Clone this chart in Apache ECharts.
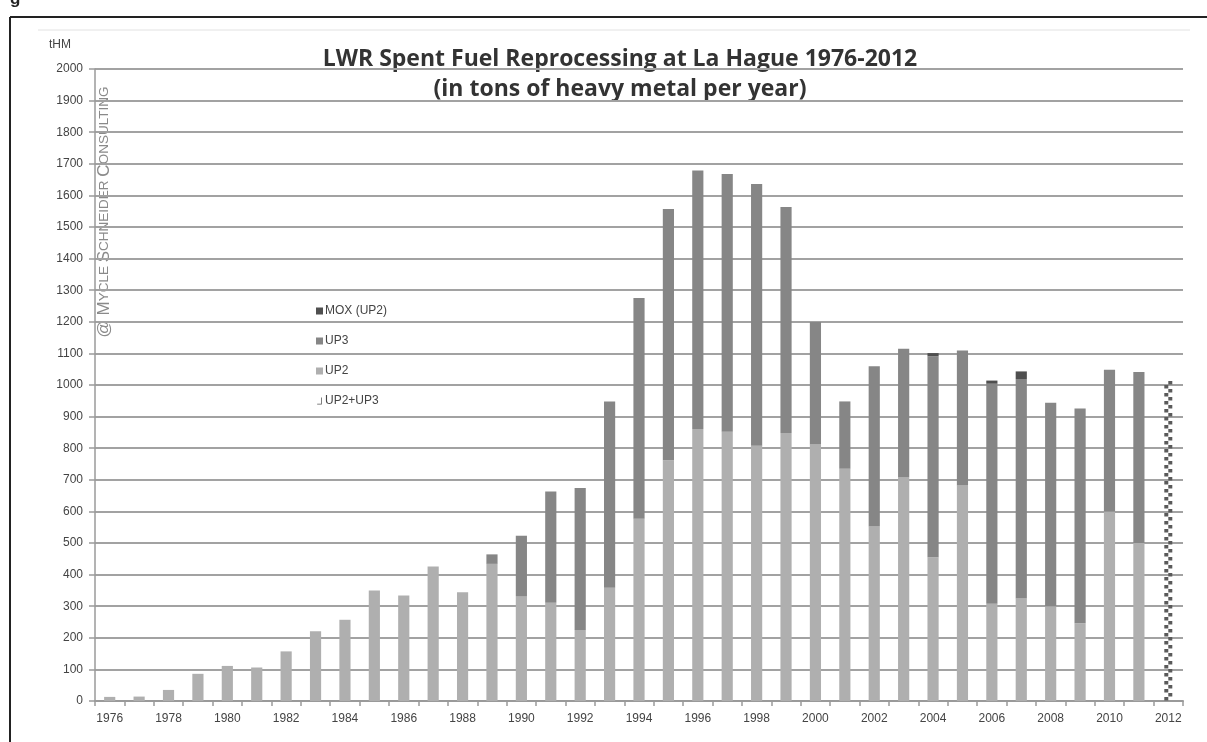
<!DOCTYPE html>
<html>
<head>
<meta charset="utf-8">
<script src="https://cdn.jsdelivr.net/npm/echarts@6/dist/echarts.min.js"></script>
<style>
  html, body { margin: 0; padding: 0; background: #fff; }
  #chart { width: 1207px; height: 742px; }
</style>
</head>
<body>
<div id="chart"></div>
<script>
// years on the x axis
const years = [
  '1976','1977','1978','1979','1980','1981','1982','1983','1984','1985',
  '1986','1987','1988','1989','1990','1991','1992','1993','1994','1995',
  '1996','1997','1998','1999','2000','2001','2002','2003','2004','2005',
  '2006','2007','2008','2009','2010','2011','2012'
]

// tons of heavy metal per year
const up2 = [
  13, 14, 35, 86, 111, 106, 157, 221, 257, 350,
  334, 426, 344, 434, 332, 311, 225, 358, 577, 762,
  861, 852, 808, 848, 812, 735, 552, 707, 455, 682,
  308, 324, 300, 246, 600, 500, '-'
]
const up3 = [
  '-', '-', '-', '-', '-', '-', '-', '-', '-', '-',
  '-', '-', '-', 30, 191, 352, 449, 590, 698, 795,
  818, 816, 828, 715, 387, 213, 507, 408, 636, 427,
  696, 695, 644, 680, 448, 541, '-'
]
const mox = [
  '-', '-', '-', '-', '-', '-', '-', '-', '-', '-',
  '-', '-', '-', '-', '-', '-', '-', '-', '-', '-',
  '-', '-', '-', '-', '-', '-', '-', '-', 10, '-',
  10, 24, '-', '-', '-', '-', '-'
]
// 2012 estimate, drawn checkered
const up2up3 = [['2012', 1018]]

const chart = echarts.init(document.getElementById('chart'))

// checkered column for the 2012 estimate
const renderChecker = (params, api) => {
  const base = api.coord([api.value(0), 0])
  const top = api.coord([api.value(0), api.value(1)])
  const s = 4
  const n = Math.floor((base[1] - top[1]) / s)
  const children = []
  for (let i = 0; i < n; i++) {
    children.push({
      type: 'rect',
      shape: { x: base[0] + (i % 2 ? 0 : -s), y: base[1] - (i + 1) * s, width: s, height: s - 0.5 },
      style: { fill: api.visual('color') }
    })
  }
  return { type: 'group', children }
}

const option = {
  backgroundColor: '#fff',
  animation: false,
  textStyle: { fontFamily: 'Liberation Sans' },
  grid: { left: 95, right: 24, top: 69, bottom: 41 },
  legend: {
    orient: 'vertical',
    left: 311,
    top: 300,
    itemGap: 18,
    itemWidth: 7,
    itemHeight: 7,
    textStyle: { fontSize: 12, color: '#444', padding: [0, 0, 0, -3] },
    data: [
      { name: 'MOX (UP2)', icon: 'rect' },
      { name: 'UP3', icon: 'rect' },
      { name: 'UP2', icon: 'rect' },
      { name: 'UP2+UP3', icon: 'path://M0,8 L5,8 L5,0 L6,0 L6,9 L0,9 Z' }
    ]
  },
  xAxis: {
    type: 'category',
    data: years,
    axisLine: { lineStyle: { color: '#9a9a9a', width: 2 } },
    axisTick: { show: true, interval: 0, length: 5, lineStyle: { color: '#9a9a9a', width: 1.5 } },
    axisLabel: { interval: 1, margin: 12, fontSize: 12, color: '#444' }
  },
  yAxis: {
    type: 'value',
    min: 0,
    max: 2000,
    interval: 100,
    axisLine: { show: true, lineStyle: { color: '#9a9a9a', width: 1.5 } },
    axisTick: { show: true, length: 6, lineStyle: { color: '#9a9a9a', width: 1.5 } },
    axisLabel: { margin: 12, fontSize: 12, color: '#444', formatter: v => String(v) },
    splitLine: { lineStyle: { color: '#a2a2a2', width: 2 } }
  },
  series: [
    {
      name: 'UP2', type: 'bar', stack: 'total', barWidth: '38%',
      itemStyle: { color: '#afafaf' }, data: up2
    },
    {
      name: 'UP3', type: 'bar', stack: 'total',
      itemStyle: { color: '#868686' }, data: up3
    },
    {
      name: 'MOX (UP2)', type: 'bar', stack: 'total',
      itemStyle: { color: '#4f4f4f' }, data: mox
    },
    {
      name: 'UP2+UP3', type: 'custom',
      itemStyle: { color: '#5a5a5a' },
      encode: { x: 0, y: 1 },
      renderItem: renderChecker,
      data: up2up3,
      z: 5
    }
  ],
  graphic: [
    // figure frame
    { type: 'line', shape: { x1: 10, y1: 17, x2: 1207, y2: 17 }, style: { stroke: '#222', lineWidth: 2 } },
    { type: 'line', shape: { x1: 10, y1: 17, x2: 10, y2: 742 }, style: { stroke: '#222', lineWidth: 2 } },
    { type: 'line', shape: { x1: 38, y1: 30, x2: 1190, y2: 30 }, style: { stroke: '#e2e2e2', lineWidth: 1 } },
    { type: 'text', x: 10, y: -9, style: { text: 'g', font: 'bold 17px "Liberation Sans"', fill: '#222' } },
    // unit
    { type: 'text', x: 49, y: 39, style: { text: 'tHM', font: '12px "Liberation Sans"', fill: '#444' } },
    // title
    {
      type: 'text', x: 620, y: 59,
      style: {
        text: 'LWR Spent Fuel Reprocessing at La Hague 1976-2012',
        font: 'bold 23px "Open Sans"', fill: '#333', textAlign: 'center', textVerticalAlign: 'middle'
      }
    },
    {
      type: 'text', x: 620, y: 89,
      style: {
        text: '(in tons of heavy metal per year)',
        font: 'bold 23px "Open Sans"', fill: '#333', textAlign: 'center', textVerticalAlign: 'middle'
      }
    },
    // watermark
    {
      type: 'text', x: 104, y: 212, rotation: Math.PI / 2,
      style: {
        text: '{b|@ M}{s|YCLE }{b|S}{s|CHNEIDER }{b|C}{s|ONSULTING}',
        align: 'center', verticalAlign: 'middle',
        rich: {
          b: { fontSize: 17, fontFamily: 'Liberation Sans', fill: '#8a8a8a' },
          s: { fontSize: 13.5, fontFamily: 'Liberation Sans', fill: '#8a8a8a' }
        }
      }
    }
  ]
}

chart.setOption(option)
</script>
</body>
</html>
